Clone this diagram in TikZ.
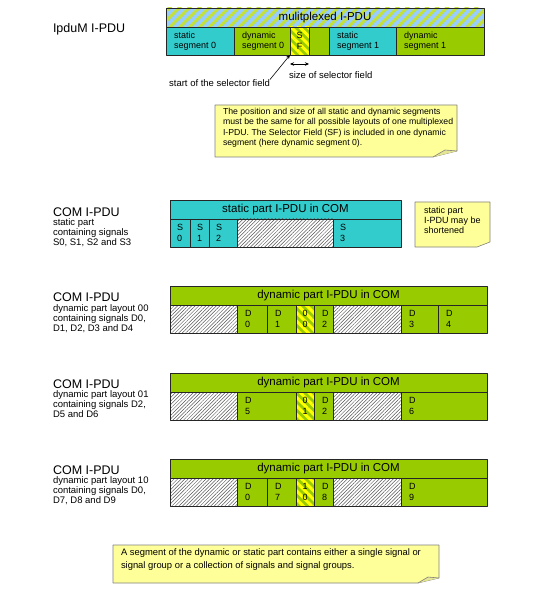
\documentclass[tikz,border=0pt]{standalone}
\usepackage{fontspec}
\setmainfont{Liberation Sans}
\usetikzlibrary{arrows.meta,patterns.meta,positioning}
\definecolor{statcol}{HTML}{33CCCC}
\definecolor{dyncol}{HTML}{99CC00}
\definecolor{hdrblue}{HTML}{99CCFF}
\definecolor{hdrstripe}{HTML}{C4E03A}
\definecolor{sfyellow}{HTML}{FFFF00}
\definecolor{notecol}{HTML}{FFFF99}
\definecolor{hatchcol}{HTML}{555555}
\begin{document}
\begin{tikzpicture}[x=1pt,y=-1pt,>={Stealth[length=4pt,width=3.5pt]},line join=round,
	every node/.style={inner sep=0pt,outer sep=0pt},
	cellbox/.style={draw=black!85,line width=.7pt,anchor=north west,minimum height=28pt},
	hdr/.style={cellbox,minimum height=19pt,font=\fontsize{11.5}{13}\selectfont},
	stat/.style={cellbox,fill=statcol},
	dyn/.style={cellbox,fill=dyncol},
	voidcell/.style={cellbox,pattern={Lines[angle=45,distance=2.5pt,line width=.5pt]},pattern color=hatchcol},
	selcell/.style={cellbox,preaction={fill=dyncol},pattern={Lines[angle=-45,distance=6pt,line width=3pt]},pattern color=sfyellow,align=center,font=\fontsize{9}{10.5}\selectfont},
	ctext/.style={anchor=west,align=left,font=\fontsize{9}{10.5}\selectfont},
	title/.style={anchor=west,font=\fontsize{12.5}{14}\selectfont},
	sub/.style={anchor=north west,align=left,font=\fontsize{9.5}{10.2}\selectfont},
	small/.style={font=\fontsize{9.5}{11}\selectfont},
	note/.style={draw=gray,fill=notecol,line width=.6pt},
	ntext/.style={anchor=north west,align=left,font=\fontsize{8.7}{10.5}\selectfont}]
	\useasboundingbox (0,0) rectangle (554,593);
	% multiplexed I-PDU
	\node[title] (ipdum) at (53,29) {IpduM I-PDU};
	\node[hdr,minimum width=318pt,preaction={fill=hdrblue},pattern={Lines[angle=45,distance=7pt,line width=3pt]},pattern color=hdrstripe] (mpdu) at (166,8) {mulitplexed I-PDU};
	\foreach \n/\x/\w/\s/\t in {s0/166/68/stat/{static\\segment 0},d0/234/56/dyn/{dynamic\\segment 0},sg/309/20/dyn/{},s1/329/67/stat/{static\\segment 1},d1/396/88/dyn/{dynamic\\segment 1}}{
		\node[\s,minimum width=\w pt] (m\n) at (\x,27) {};
		\node[ctext] at ([xshift=8pt]m\n.west) {\t};
	}
	\node[selcell,minimum width=19pt] (msf) at (290,27) {S\\F};
	\node[small,anchor=east] (sfstart) at (270,83) {start of the selector field};
	\node[small,anchor=west] (sfsize) at (289,75) {size of selector field};
	\draw[->,line width=.6pt] (sfstart.north east) -- (msf.south west);
	\draw[<->,line width=.6pt] ([yshift=-9pt]msf.south west) -- ([yshift=-9pt]msf.south east);
	% note 1
	\draw[note] (215,105) -- (457,105) -- (457,151) -- (433,157) -- (215,157) -- cycle;
	\draw[note,fill=notecol!80!gray] (433,157) -- (445,150) -- (457,151);
	\node[ntext] (note1) at (223,108) {The position and size of all static and dynamic segments\\must be the same for all possible layouts of one multiplexed\\I-PDU. The Selector Field (SF) is included in one dynamic\\segment (here dynamic segment 0).};
	% static part
	\node[title] (com1) at (53,212) {COM I-PDU};
	\node[sub] at ([yshift=-2pt]com1.south west) {static part\\containing signals\\S0, S1, S2 and S3};
	\node[hdr,fill=statcol,minimum width=231pt] (shdr) at (170,200) {static part I-PDU in COM};
	\foreach \n/\x/\w/\s/\t in {0/170/20/stat/{S\\0},1/190/19/stat/{S\\1},2/209/28/stat/{S\\2},v/237/96/voidcell/{},3/333/68/stat/{S\\3}}{
		\node[\s,minimum width=\w pt] (s\n) at (\x,219) {};
		\node[ctext] at ([xshift=7pt]s\n.west) {\t};
	}
	\draw[note] (415,202) -- (490,202) -- (490,242) -- (477,247) -- (415,247) -- cycle;
	\node[ntext,font=\fontsize{9}{10}\selectfont] (note2) at (424,207) {static part\\I-PDU may be\\shortened};
	% dynamic part layout 00
	\node[title] (com2) at (53,297) {COM I-PDU};
	\node[sub] at ([yshift=-3pt]com2.south west) {dynamic part layout 00\\containing signals D0,\\D1, D2, D3 and D4};
	\node[hdr,fill=dyncol,minimum width=317pt] (dhdra) at (170,286) {dynamic part I-PDU in COM};
	\foreach \n/\x/\w/\s/\t in {v/170/67/voidcell/{},0/237/30/dyn/{D\\0},1/267/29/dyn/{D\\1},2/314/19/dyn/{D\\2},w/333/68/voidcell/{},3/401/37/dyn/{D\\3},4/438/49/dyn/{D\\4}}{
		\node[\s,minimum width=\w pt] (a\n) at (\x,305) {};
		\node[ctext] at ([xshift=8pt]a\n.west) {\t};
	}
	\node[selcell,minimum width=18pt] (asel) at (296,305) {0\\0};
	% dynamic part layout 01
	\node[title] (com3) at (53,384) {COM I-PDU};
	\node[sub] at ([yshift=-2pt]com3.south west) {dynamic part layout 01\\containing signals D2,\\D5 and D6};
	\node[hdr,fill=dyncol,minimum width=317pt] (dhdrb) at (170,373) {dynamic part I-PDU in COM};
	\foreach \n/\x/\w/\s/\t in {v/170/67/voidcell/{},5/237/59/dyn/{D\\5},2/314/19/dyn/{D\\2},w/333/68/voidcell/{},6/401/86/dyn/{D\\6}}{
		\node[\s,minimum width=\w pt] (b\n) at (\x,392) {};
		\node[ctext] at ([xshift=8pt]b\n.west) {\t};
	}
	\node[selcell,minimum width=18pt] (bsel) at (296,392) {0\\1};
	% dynamic part layout 10
	\node[title] (com4) at (53,470) {COM I-PDU};
	\node[sub] at ([yshift=-2pt]com4.south west) {dynamic part layout 10\\containing signals D0,\\D7, D8 and D9};
	\node[hdr,fill=dyncol,minimum width=317pt] (dhdrc) at (170,459) {dynamic part I-PDU in COM};
	\foreach \n/\x/\w/\s/\t in {v/170/67/voidcell/{},0/237/30/dyn/{D\\0},7/267/29/dyn/{D\\7},8/314/19/dyn/{D\\8},w/333/68/voidcell/{},9/401/86/dyn/{D\\9}}{
		\node[\s,minimum width=\w pt] (c\n) at (\x,478) {};
		\node[ctext] at ([xshift=8pt]c\n.west) {\t};
	}
	\node[selcell,minimum width=18pt] (csel) at (296,478) {1\\0};
	% note 3
	\draw[note] (113,545) -- (439,545) -- (439,578) -- (418,583) -- (113,583) -- cycle;
	\draw[note,fill=notecol!80!gray] (418,583) -- (428,577) -- (439,578);
	\node[ntext,font=\fontsize{9.4}{12.5}\selectfont] (note3) at (121,549) {A segment of the dynamic or static part contains either a single signal or\\signal group or a collection of signals and signal groups.};
\end{tikzpicture}
\end{document}
